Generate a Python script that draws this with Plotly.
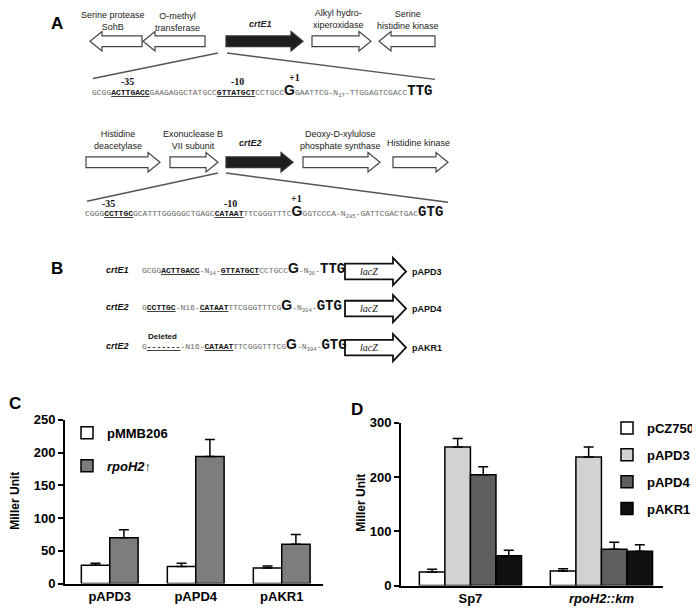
import plotly.graph_objects as go

W, H = 700, 616
OFF = 8  # page body margin offset
FW, FH = W - OFF, H - OFF

# ---------------- data ----------------
# Panel C
c_cats = ["pAPD3", "pAPD4", "pAKR1"]
c_pmmb = [28, 26, 24]
c_pmmb_err = [3, 5, 3]
c_rpoh = [70, 194, 60]
c_rpoh_err = [12, 26, 15]

# Panel D
d_cats = ["Sp7", "rpoH2::km"]
d_cats_text = ["Sp7", "<i>rpoH2::km</i>"]
d_pcz = [25, 27]
d_pcz_err = [5, 4]
d_apd3 = [255, 237]
d_apd3_err = [16, 18]
d_apd4 = [204, 67]
d_apd4_err = [15, 13]
d_akr1 = [55, 63]
d_akr1_err = [10, 12]

# Panel A gene names / orientation
row1_genes = ["Serine protease<br>SohB", "O-methyl<br>transferase", "crtE1",
              "Alkyl hydro-<br>xiperoxidase", "Serine<br>histidine kinase"]
row1_dirs = [-1, -1, 1, 1, -1]
row2_genes = ["Histidine<br>deacetylase", "Exonuclease B<br>VII subunit", "crtE2",
              "Deoxy-D-xylulose<br>phosphate synthase", "Histidine kinase"]
row2_dirs = [1, 1, 1, 1, 1]

# promoter sequences: (style, text)
seqA1 = [('n', 'GCGG'), ('b', 'ACTTGACC'), ('n', 'GAAGAGGCTATGCC'), ('b', 'GTTATGCT'),
         ('n', 'CCTGCC'), ('G', 'G'), ('n', 'GAATTCG-N'), ('s', '17'),
         ('n', '-TTGGAGTCGACC'), ('M', 'TTG')]
seqA2 = [('n', 'CGGG'), ('b', 'CCTTGC'), ('n', 'GCATTTGGGGGCTGAGC'), ('b', 'CATAAT'),
         ('n', 'TTCGGGTTTC'), ('G', 'G'), ('n', 'GGTCCCA-N'), ('s', '285'),
         ('n', '-GATTCGACTGAC'), ('M', 'GTG')]
seqB1 = [('n', 'GCGG'), ('b', 'ACTTGACC'), ('n', '-N'), ('s', '14'), ('n', '-'),
         ('b', 'GTTATGCT'), ('n', 'CCTGCC'), ('G', 'G'), ('n', '-N'), ('s', '36'),
         ('n', '-'), ('M', 'TTG')]
seqB2 = [('n', 'G'), ('b', 'CCTTGC'), ('n', '-N16-'), ('b', 'CATAAT'),
         ('n', 'TTCGGGTTTCG'), ('G', 'G'), ('n', '-N'), ('s', '304'), ('n', '-'), ('M', 'GTG')]
seqB3 = [('n', 'G'), ('b', '-------'), ('n', '-N16-'), ('b', 'CATAAT'),
         ('n', 'TTCGGGTTTCG'), ('G', 'G'), ('n', '-N'), ('s', '304'), ('n', '-'), ('M', 'GTG')]
b_genes = ["crtE1", "crtE2", "crtE2"]
b_plasmids = ["pAPD3", "pAPD4", "pAKR1"]

# ---------------- layout positions (reference pixels) ----------------
row1_spans = [(90, 142), (143, 205), (226, 303), (312, 371), (379, 435)]
row1_lab = [(113, 14), (177, 15), (260, 17), (338, 12), (408, 13)]
row2_spans = [(86, 160), (170, 218), (226, 293), (303, 380), (393, 448)]
row2_lab = [(118, 136), (193, 136), (250, 139), (340, 136), (418, 139)]

fig = go.Figure()

# ---------------- bar chart C ----------------
fig.add_trace(go.Bar(x=c_cats, y=c_pmmb, name="pMMB206", width=0.33, offset=-0.33,
                     marker=dict(color="white", line=dict(color="black", width=1.5)),
                     error_y=dict(type="data", array=c_pmmb_err, arrayminus=[0] * 3,
                                  symmetric=False, color="black", thickness=1.5, width=5),
                     xaxis="x", yaxis="y", legend="legend", legendgroup="a"))
fig.add_trace(go.Bar(x=c_cats, y=c_rpoh, name="<i>rpoH2</i>↑", width=0.33, offset=0,
                     marker=dict(color="#7d7d7d", line=dict(color="black", width=1.5)),
                     error_y=dict(type="data", array=c_rpoh_err, arrayminus=[0] * 3,
                                  symmetric=False, color="black", thickness=1.5, width=5),
                     xaxis="x", yaxis="y", legend="legend", legendgroup="b"))

# ---------------- bar chart D ----------------
d_series = [("pCZ750", d_pcz, d_pcz_err, "white"),
            ("pAPD3", d_apd3, d_apd3_err, "#d2d2d2"),
            ("pAPD4", d_apd4, d_apd4_err, "#5e5e5e"),
            ("pAKR1", d_akr1, d_akr1_err, "#111111")]
bw = 0.195
for i, (nm, vals, errs, col) in enumerate(d_series):
    fig.add_trace(go.Bar(x=d_cats, y=vals, name=nm, width=bw, offset=-2 * bw + i * bw,
                         marker=dict(color=col, line=dict(color="black", width=1.5)),
                         error_y=dict(type="data", array=errs, arrayminus=[0] * 2,
                                      symmetric=False, color="black", thickness=1.5, width=5),
                         xaxis="x2", yaxis="y2", legend="legend2", legendgroup=nm))


def px(x):
    return (x - OFF) / FW


def py(y):
    return 1 - (y - OFF) / FH


BOLD = dict(family="Liberation Sans", color="black", weight="bold")
axis_common = dict(showgrid=False, zeroline=False, showline=True, linecolor="black",
                   linewidth=2, ticks="outside", tickwidth=2, ticklen=5, tickcolor="black",
                   tickfont=dict(size=13, **BOLD))
xaxis_common = {**axis_common, "ticks": "", "tickfont": dict(size=13, **BOLD)}

fig.update_layout(
    width=FW, height=FH, margin=dict(l=0, r=0, t=0, b=0),
    paper_bgcolor="white", plot_bgcolor="rgba(0,0,0,0)",
    barmode="overlay",
    xaxis=dict(domain=[px(65), px(323)], anchor="y", range=[-0.52, 2.48], **xaxis_common),
    yaxis=dict(domain=[py(591), py(423)], anchor="x", range=[0, 250],
               tickvals=[0, 50, 100, 150, 200, 250], **axis_common),
    xaxis2=dict(domain=[px(401), px(663)], anchor="y2", range=[-0.53, 1.47],
                tickvals=d_cats, ticktext=d_cats_text, **xaxis_common),
    yaxis2=dict(domain=[py(593), py(426)], anchor="x2", range=[0, 300],
                tickvals=[0, 100, 200, 300], **axis_common),
    xaxis3=dict(domain=[0, 1], range=[OFF, W], visible=False, anchor="y3", fixedrange=True),
    yaxis3=dict(domain=[0, 1], range=[H, OFF], visible=False, anchor="x3", fixedrange=True),
    legend=dict(x=px(67), y=py(421), xanchor="left", yanchor="top", bgcolor="rgba(0,0,0,0)",
                font=dict(size=13, **BOLD),
                tracegroupgap=13, traceorder="grouped", itemwidth=30),
    legend2=dict(x=px(607), y=py(416), xanchor="left", yanchor="top", bgcolor="rgba(0,0,0,0)",
                 font=dict(size=13, **BOLD),
                 tracegroupgap=7, traceorder="grouped", itemwidth=30),
    showlegend=True,
)
# invisible trace to activate the overlay (schematic) axes
fig.add_trace(go.Scatter(x=[OFF], y=[OFF], mode="markers", marker=dict(opacity=0),
                         xaxis="x3", yaxis="y3", showlegend=False, hoverinfo="skip"))

shapes = []
annos = []


def arrow_path(x0, x1, yc, d, bh=5.5, hh=10, hl=12):
    if d > 0:
        xs = [x0, x1 - hl, x1 - hl, x1, x1 - hl, x1 - hl, x0]
    else:
        xs = [x1, x0 + hl, x0 + hl, x0, x0 + hl, x0 + hl, x1]
    ys = [yc - bh, yc - bh, yc - hh, yc, yc + hh, yc + bh, yc + bh]
    return "M" + " L".join(f"{a:.1f},{b:.1f}" for a, b in zip(xs, ys)) + " Z"


def add_text(x, y, text, size=9, family="Liberation Sans Narrow, Liberation Sans", color="#222",
             xanchor="center", yanchor="middle", weight="normal", align="center", angle=0):
    annos.append(dict(x=x, y=y, xref="x3", yref="y3", text=text, showarrow=False,
                      xanchor=xanchor, yanchor=yanchor, align=align, textangle=angle,
                      font=dict(size=size, family=family, color=color, weight=weight)))


def seq_html(segs, nsize=8):
    out = []
    for st, t in segs:
        if st == 'n':
            out.append(f'<span style="font-family:Liberation Mono;font-size:{nsize}px;color:#666">{t}</span>')
        elif st == 'b':
            out.append(f'<span style="font-family:Liberation Mono;font-size:{nsize}px;color:#111;font-weight:bold"><u>{t}</u></span>')
        elif st == 's':
            out.append(f'<span style="font-family:Liberation Mono;font-size:{nsize}px;color:#666"><sub>{t}</sub></span>')
        elif st == 'G':
            out.append(f'<span style="font-family:Liberation Sans;font-size:14px;color:#111;font-weight:bold">{t}</span>')
        elif st == 'M':
            out.append(f'<span style="font-family:Liberation Mono;font-size:14px;color:#111;font-weight:bold">{t}</span>')
    return "".join(out)


def gene_row(spans, dirs, names, labs, yc):
    for (x0, x1), d, nm, (lx, ly) in zip(spans, dirs, names, labs):
        black = nm.startswith("crt")
        shapes.append(dict(type="path", xref="x3", yref="y3",
                           path=arrow_path(x0, x1, yc, d),
                           fillcolor="#1e1e1e" if black else "white",
                           line=dict(color="#333" if black else "#444", width=1.2)))
        if black:
            add_text(lx, ly, f"<b><i>{nm}</i></b>", size=9, family="Liberation Sans")
        else:
            add_text(lx, ly, nm, size=9)


# Panel A
add_text(57, 17, "A", size=17, family="Liberation Sans", weight="bold", color="black")
gene_row(row1_spans, row1_dirs, row1_genes, row1_lab, 35)
gene_row(row2_spans, row2_dirs, row2_genes, row2_lab, 159)
for (xa, ya, xb, yb) in [(218, 47, 93, 73), (227, 47, 435, 74),
                         (218, 170, 87, 199), (226, 170, 448, 200)]:
    shapes.append(dict(type="line", xref="x3", yref="y3", x0=xa, y0=ya, x1=xb, y1=yb,
                       line=dict(color="#555", width=1.5)))

add_text(90, 85, seq_html(seqA1), xanchor="left")
add_text(83, 209, seq_html(seqA2), xanchor="left")
for (x, y, t) in [(127, 76, "-35"), (237, 76, "-10"), (294, 72, "+1"),
                  (108, 201, "-35"), (230, 201, "-10"), (296, 196, "+1")]:
    add_text(x, y, f"<b>{t}</b>", size=10, family="Liberation Serif", color="#111")

# Panel B
add_text(57, 268, "B", size=17, family="Liberation Sans", weight="bold", color="black")
b_rows = [(271, seqB1), (309, seqB2), (349, seqB3)]
for (yc, sq), g, pl in zip(b_rows, b_genes, b_plasmids):
    add_text(117, yc - 2, f"<b><i>{g}</i></b>", size=9, family="Liberation Sans", color="#111")
    add_text(140, yc - 3, seq_html(sq), xanchor="left")
    shapes.append(dict(type="path", xref="x3", yref="y3",
                       path=arrow_path(345, 406, yc, 1, bh=8, hh=14, hl=13),
                       fillcolor="white", line=dict(color="#111", width=1.8)))
    add_text(369, yc, "<i>lacZ</i>", size=10, family="Liberation Serif", color="#111")
    add_text(410, yc, f"<b>{pl}</b>", size=9, family="Liberation Sans", color="#111",
             xanchor="left")
add_text(162, 338, "<b>Deleted</b>", size=8, family="Liberation Sans", color="#111")

# Panel C / D labels and y-axis titles
add_text(15, 406, "C", size=17, family="Liberation Sans", weight="bold", color="black")
add_text(357, 412, "D", size=17, family="Liberation Sans", weight="bold", color="black")
add_text(15, 506, "<b>Miller Unit</b>", size=12, family="Liberation Sans", color="black", angle=-90)
add_text(361, 508, "<b>Miller Unit</b>", size=12, family="Liberation Sans", color="black", angle=-90)

fig.update_layout(shapes=shapes, annotations=annos)
fig.write_html("out.html")
